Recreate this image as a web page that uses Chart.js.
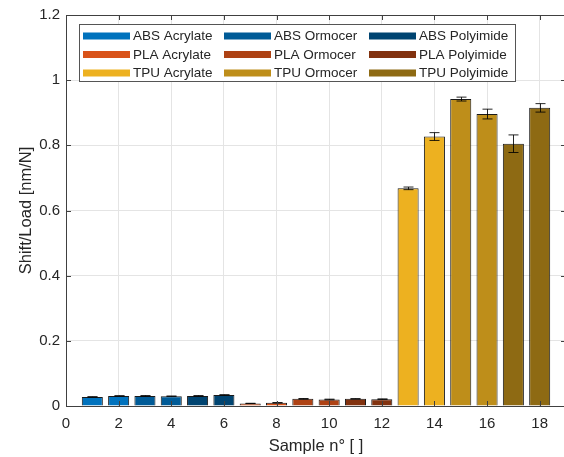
<!DOCTYPE html>
<html>
<head>
<meta charset="utf-8">
<script src="https://cdn.jsdelivr.net/npm/chart.js@4"></script>
<style>
  html, body { margin: 0; padding: 0; background: #fff; overflow: hidden; }
  #wrap { width: 572px; height: 457px; position: relative; }
</style>
</head>
<body>
<div id="wrap"><canvas id="chart"></canvas></div>
<script>
// data
const groups = ['ABS Acrylate', 'ABS Ormocer', 'ABS Polyimide',
                'PLA Acrylate', 'PLA Ormocer', 'PLA Polyimide',
                'TPU Acrylate', 'TPU Ormocer', 'TPU Polyimide'];
const samples = [1, 2, 3, 4, 5, 6, 7, 8, 9, 10, 11, 12, 13, 14, 15, 16, 17, 18];
const shiftLoad = [0.028, 0.031, 0.031, 0.030, 0.031, 0.034,
                   0.008, 0.010, 0.022, 0.020, 0.022, 0.021,
                   0.668, 0.827, 0.942, 0.896, 0.805, 0.915];
const errs = [0.0003, 0.0005, 0.001, 0.0005, 0.001, 0.0005,
              0.0003, 0.0003, 0.001, 0.001, 0.0005, 0.0008,
              0.004, 0.012, 0.006, 0.015, 0.027, 0.013];
const colors = ['#0072BD', '#005B97', '#004471',
                '#D95319', '#AE4214', '#82320F',
                '#EDB120', '#BE8E1A', '#8E6A13'];

const FONT = '"Liberation Sans", Arial, Helvetica, sans-serif';
const TXT = '#262626';

const datasets = groups.map((g, i) => ({
    label: g,
    data: [0, 1].map(k => ({ x: samples[i * 2 + k], y: shiftLoad[i * 2 + k] })),
    backgroundColor: colors[i],
    borderColor: '#1a1a1a',
    borderWidth: 1,
    barPercentage: 0.8,
    categoryPercentage: 1.0,
    grouped: false
}));

// error bars, inward ticks and the boxed legend
const extras = {
    id: 'extras',
    afterDatasetsDraw(chart) {
        const ctx = chart.ctx;
        const xs = chart.scales.x, ys = chart.scales.y;
        const a = chart.chartArea;
        ctx.save();

        // error bars
        ctx.strokeStyle = 'rgba(0,0,0,0.85)';
        ctx.lineWidth = 1;
        samples.forEach((s, i) => {
            const px = Math.round(xs.getPixelForValue(s)) + 0.5;
            const yt = ys.getPixelForValue(shiftLoad[i] + errs[i]);
            const yb = ys.getPixelForValue(shiftLoad[i] - errs[i]);
            ctx.beginPath();
            ctx.moveTo(px, yt); ctx.lineTo(px, yb);
            ctx.moveTo(px - 5, yt); ctx.lineTo(px + 5, yt);
            ctx.moveTo(px - 5, yb); ctx.lineTo(px + 5, yb);
            ctx.stroke();
        });

        // inward ticks
        ctx.strokeStyle = '#404040';
        ctx.beginPath();
        xs.ticks.forEach(t => {
            const px = Math.round(xs.getPixelForValue(t.value)) + 0.5;
            ctx.moveTo(px, a.bottom); ctx.lineTo(px, a.bottom - 5);
            ctx.moveTo(px, a.top); ctx.lineTo(px, a.top + 5);
        });
        ys.ticks.forEach(t => {
            const py = Math.round(ys.getPixelForValue(t.value)) + 0.5;
            ctx.moveTo(a.left, py); ctx.lineTo(a.left + 5, py);
            ctx.moveTo(a.right, py); ctx.lineTo(a.right - 5, py);
        });
        ctx.stroke();
        // top and right frame
        ctx.beginPath();
        ctx.moveTo(a.left, a.top + 0.5); ctx.lineTo(a.right, a.top + 0.5);
        ctx.moveTo(a.right - 0.5, a.top); ctx.lineTo(a.right - 0.5, a.bottom);
        ctx.stroke();

        // legend box
        const bx = 79.5, by = 24.5, bw = 436, bh = 57;
        ctx.fillStyle = '#fff';
        ctx.fillRect(bx, by, bw, bh);
        ctx.strokeStyle = '#555';
        ctx.strokeRect(bx, by, bw, bh);
        const colX = [83, 224, 369];
        const rowY = [36, 54.5, 73];
        ctx.font = '13.5px ' + FONT;
        ctx.textBaseline = 'middle';
        ctx.textAlign = 'left';
        groups.forEach((g, i) => {
            const c = i % 3, r = Math.floor(i / 3);
            ctx.fillStyle = colors[i];
            ctx.fillRect(colX[c], rowY[r] - 3.5, 47, 7);
            ctx.fillStyle = TXT;
            ctx.fillText(g, colX[c] + 50, rowY[r] + 0.5);
        });
        ctx.restore();
    }
};

new Chart(document.getElementById('chart'), {
    type: 'bar',
    data: { datasets: datasets },
    options: {
        responsive: true,
        maintainAspectRatio: false,
        animation: false,
        layout: { padding: { top: 13, right: 6, left: 0, bottom: 0 } },
        plugins: { legend: { display: false }, tooltip: { enabled: false } },
        scales: {
            x: {
                type: 'linear',
                min: 0,
                max: 19,
                offset: false,
                afterBuildTicks: s => { s.ticks = s.ticks.filter(t => t.value % 2 === 0); },
                afterFit: s => { s.height = 51; },
                ticks: { stepSize: 2, color: TXT, font: { family: FONT, size: 15 }, padding: 9, maxRotation: 0 },
                grid: { color: '#e4e4e4', drawTicks: false, offset: false },
                border: { color: '#404040' },
                title: { display: true, text: 'Sample n° [ ]', color: TXT,
                         font: { family: FONT, size: 16.5 }, padding: { top: 2, bottom: 1 } }
            },
            y: {
                min: 0,
                max: 1.2,
                afterFit: s => { s.width = 66; },
                ticks: { stepSize: 0.2, color: TXT, font: { family: FONT, size: 15 }, padding: 6,
                         callback: v => String(+v.toFixed(1)) },
                grid: { color: '#e4e4e4', drawTicks: false },
                border: { color: '#404040' },
                title: { display: true, text: 'Shift/Load [nm/N]', color: TXT,
                         font: { family: FONT, size: 16.5 }, padding: { top: 17, bottom: 0 } }
            }
        }
    },
    plugins: [extras]
});
</script>
</body>
</html>
